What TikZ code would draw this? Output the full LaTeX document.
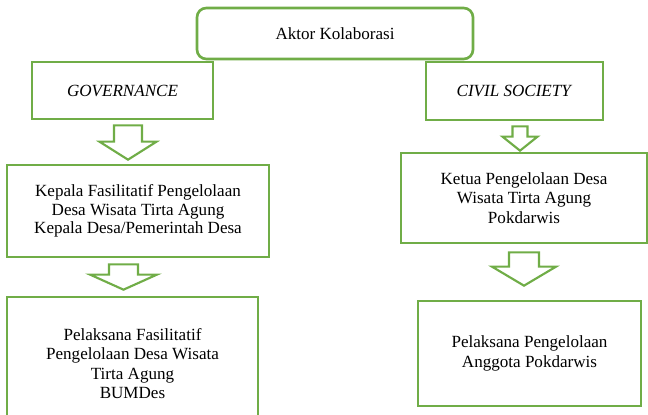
\documentclass[tikz,border=0pt]{standalone}
\usepackage{fontspec}
\setmainfont{Liberation Serif}
\usetikzlibrary{calc}
\definecolor{boxgreen}{RGB}{112,173,71}
% hollow block arrow: from, to, x, shaft half, head half, top gap, tip gap, head length
\newcommand{\flowarrow}[8]{%
  \path[flow] let \p1 = (#3,0 |- #1.south), \p2 = (#3,0 |- #2.north) in
    (\x1-#4, \y1-#6) -- (\x1+#4, \y1-#6) -- (\x1+#4, \y2+#7+#8) -- (\x1+#5, \y2+#7+#8)
    -- (\x1, \y2+#7) -- (\x1-#5, \y2+#7+#8) -- (\x1-#4, \y2+#7+#8) -- cycle;}
\begin{document}
\begin{tikzpicture}[x=0.75pt, y=-0.75pt, font=\fontsize{12.8}{14.6}\selectfont]
  \tikzstyle{block} = [rectangle, draw=boxgreen, line width=2pt, fill=white, align=center, inner sep=0pt]
  \tikzstyle{flow} = [draw=boxgreen, line width=1.6pt, fill=white, line join=miter]
  \useasboundingbox (0,0) rectangle (648,414);

  \node [block, rounded corners=7pt, minimum width=207pt, minimum height=38.25pt] (aktor) at (335,33.5) {Aktor Kolaborasi};
  \node [block, minimum width=135.75pt, minimum height=42.75pt] (gov) at (122.5,90.5) {\textit{GOVERNANCE}};
  \node [block, minimum width=132.75pt, minimum height=43.5pt] (civil) at (514.5,91) {\textit{CIVIL SOCIETY}};
  \node [block, minimum width=196.5pt, minimum height=69pt, font=\fontsize{12.8}{13.8}\selectfont] (kepala) at (138,211) {Kepala Fasilitatif Pengelolaan\\Desa Wisata Tirta Agung\\Kepala Desa/Pemerintah Desa};
  \node [block, minimum width=184.5pt, minimum height=67.5pt] (ketua) at (524,198) {Ketua Pengelolaan Desa\\Wisata Tirta Agung\\Pokdarwis};
  \node [block, minimum width=188.25pt, minimum height=99.75pt] (bumdes) at (132.5,363.5) {Pelaksana Fasilitatif\\Pengelolaan Desa Wisata\\Tirta Agung\\BUMDes};
  \node [block, minimum width=167.25pt, minimum height=78.75pt] (anggota) at (529.5,353.5) {Pelaksana Pengelolaan\\Anggota Pokdarwis};

  \flowarrow{gov}{kepala}{128}{10.5pt}{21.4pt}{3.75pt}{3pt}{13.5pt}
  \flowarrow{civil}{ketua}{520}{5.6pt}{13.1pt}{3.75pt}{0.75pt}{10.5pt}
  \flowarrow{kepala}{bumdes}{123.5}{10.9pt}{25pt}{4.5pt}{4.5pt}{11.25pt}
  \flowarrow{ketua}{anggota}{524}{11.25pt}{24pt}{6pt}{10.5pt}{14.25pt}
\end{tikzpicture}
\end{document}
